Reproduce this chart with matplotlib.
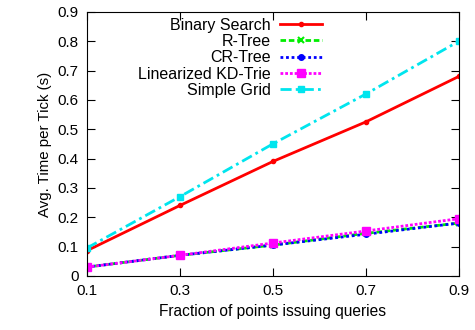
import matplotlib.pyplot as plt

plt.rcParams['font.family'] = ['Liberation Sans', 'DejaVu Sans']

fractions = [0.1, 0.3, 0.5, 0.7, 0.9]
binary_search = [0.086, 0.24, 0.39, 0.525, 0.68]
r_tree = [0.03, 0.07, 0.105, 0.145, 0.18]
cr_tree = [0.03, 0.07, 0.105, 0.142, 0.18]
kd_trie = [0.03, 0.07, 0.112, 0.153, 0.195]
simple_grid = [0.095, 0.27, 0.45, 0.62, 0.80]

yticks = [0, 0.1, 0.2, 0.3, 0.4, 0.5, 0.6, 0.7, 0.8, 0.9]
ytick_labels = ['0', '0.1', '0.2', '0.3', '0.4', '0.5', '0.6', '0.7', '0.8', '0.9']

fig = plt.figure(figsize=(4.75, 3.3), dpi=100)
ax = fig.add_axes([0.183, 0.164, 0.783, 0.8])

ax.plot(fractions, binary_search, color='#ff0000', lw=2, ls='-', marker='o', ms=3, label='Binary Search')
ax.plot(fractions, r_tree, color='#00ee00', lw=2, ls=(0, (2, 1)), marker='x', ms=5, mew=1.5, label='R-Tree')
ax.plot(fractions, cr_tree, color='#0000ff', lw=2, ls=(0, (1, 1)), marker='o', ms=4, label='CR-Tree')
ax.plot(fractions, kd_trie, color='#ff00ff', lw=2, ls=(0, (1, 0.7)), marker='s', ms=6, label='Linearized KD-Trie')
ax.plot(fractions, simple_grid, color='#00e5ee', lw=2, ls=(0, (4, 1.5, 1, 1.5)), marker='s', ms=4.5, label='Simple Grid')

ax.set_xlim(0.1, 0.9)
ax.set_ylim(0, 0.9)
ax.set_xticks(fractions)
ax.set_xticklabels(['0.1', '0.3', '0.5', '0.7', '0.9'])
ax.set_yticks(yticks)
ax.set_yticklabels(ytick_labels)
ax.tick_params(direction='in', top=True, right=True, length=6, labelsize=11, pad=6)
ax.set_xlabel('Fraction of points issuing queries', fontsize=11.2)
ax.set_ylabel('Avg. Time per Tick (s)', fontsize=10.8)

ax.legend(loc='upper right', bbox_to_anchor=(0.632, 0.978), markerfirst=False, frameon=False,
          fontsize=11.5, handlelength=2.6, labelspacing=0.08, borderaxespad=0, borderpad=0,
          handletextpad=0.6)

fig.savefig('out.png', dpi=100)
